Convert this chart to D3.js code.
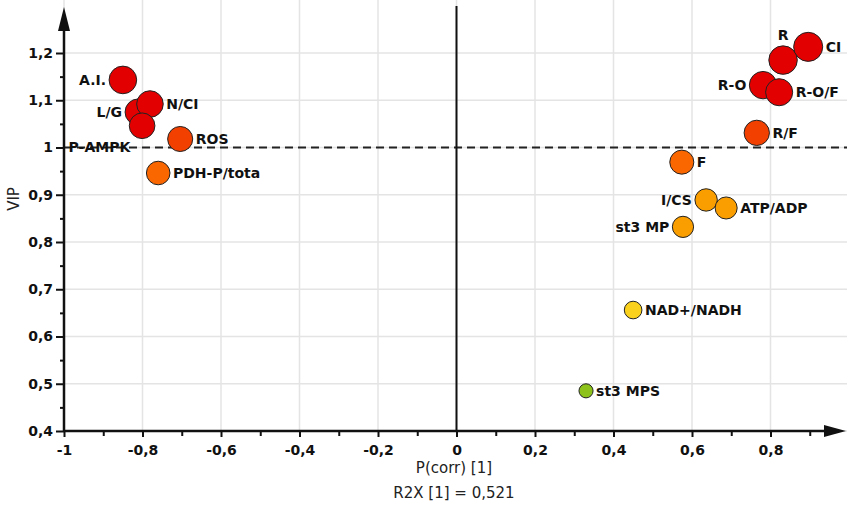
<!DOCTYPE html>
<html>
<head>
<meta charset="utf-8">
<script src="https://cdn.jsdelivr.net/npm/d3@7"></script>
<style>
  body { margin: 0; background: #fff; }
  svg { display: block; font-family: "DejaVu Sans", sans-serif; }
</style>
</head>
<body>
<script>
// data (P(corr) on x, VIP on y)
const names = ["A.I.", "L/G", "N/CI", "P-AMPK", "ROS", "PDH-P/tota",
  "R-O", "R-O/F", "R", "CI", "R/F", "F", "I/CS", "ATP/ADP", "st3 MP", "NAD+/NADH", "st3 MPS"];
const pcorr = [-0.850, -0.811, -0.781, -0.801, -0.704, -0.760,
  0.781, 0.822, 0.832, 0.896, 0.765, 0.574, 0.636, 0.687, 0.577, 0.450, 0.330];
const vip = [1.143, 1.075, 1.092, 1.046, 1.018, 0.946,
  1.132, 1.117, 1.185, 1.213, 1.031, 0.969, 0.889, 0.872, 0.832, 0.656, 0.485];

const xTicks = [-1, -0.8, -0.6, -0.4, -0.2, 0, 0.2, 0.4, 0.6, 0.8];
const xMinor = [-0.9, -0.7, -0.5, -0.3, -0.1, 0.1, 0.3, 0.5, 0.7, 0.9];
const yTicks = [0.4, 0.5, 0.6, 0.7, 0.8, 0.9, 1, 1.1, 1.2];
const yMinor = [0.45, 0.55, 0.65, 0.75, 0.85, 0.95, 1.05, 1.15];
const vipCut = 1;

const xTitle = "P(corr) [1]";
const xSubTitle = "R2X [1] = 0,521";
const yTitle = "VIP";

const width = 847, height = 506;

const svg = d3.select("body").append("svg")
  .attr("width", width)
  .attr("height", height);

// scales
const x = d3.scaleLinear().domain([-1, 1]).range([64, 849]);
const y = d3.scaleLinear().domain([0.4, 1.2]).range([431, 53]);
const r = d3.scaleLinear().domain([0.48, 1.21]).range([7, 14.5]);
const color = d3.scaleThreshold()
  .domain([0.55, 0.75, 0.92, 1.0, 1.04])
  .range(["#8dc21b", "#fad11c", "#fa9e00", "#fa6600", "#f24000", "#e30000"]);

// comma decimals, plain hyphen minus
const loc = d3.formatLocale({ decimal: ",", thousands: ".", grouping: [3], currency: ["", ""], minus: "-" });
const fmt = loc.format("~g");

// grid
svg.append("g").selectAll("line")
  .data(xTicks)
  .join("line")
  .attr("x1", d => x(d)).attr("x2", d => x(d))
  .attr("y1", 0).attr("y2", y(0.4))
  .attr("stroke", "#e4e4e4").attr("stroke-width", 1.5);

svg.append("g").selectAll("line")
  .data(yTicks)
  .join("line")
  .attr("x1", x(-1)).attr("x2", width)
  .attr("y1", d => y(d)).attr("y2", d => y(d))
  .attr("stroke", "#e4e4e4").attr("stroke-width", 1.5);

// VIP = 1 dashed line
svg.append("line")
  .attr("x1", x(-1)).attr("x2", width)
  .attr("y1", y(vipCut)).attr("y2", y(vipCut))
  .attr("stroke", "#222").attr("stroke-width", 2)
  .attr("stroke-dasharray", "8,5");

// zero line
svg.append("line")
  .attr("x1", x(0)).attr("x2", x(0))
  .attr("y1", 6).attr("y2", y(0.4))
  .attr("stroke", "#111").attr("stroke-width", 2);

// x axis
const xAxis = svg.append("g")
  .attr("transform", `translate(0,${y(0.4)})`)
  .call(d3.axisBottom(x).tickValues(xTicks).tickFormat(fmt).tickSize(6).tickPadding(8));
xAxis.append("g")
  .call(d3.axisBottom(x).tickValues(xMinor).tickFormat("").tickSize(5));

// y axis
const yAxis = svg.append("g")
  .attr("transform", `translate(${x(-1)},0)`)
  .call(d3.axisLeft(y).tickValues(yTicks).tickFormat(fmt).tickSize(8).tickPadding(3));
yAxis.append("g")
  .call(d3.axisLeft(y).tickValues(yMinor).tickFormat("").tickSize(4));

svg.selectAll(".domain").remove();
svg.selectAll(".tick line").attr("stroke", "#111").attr("stroke-width", 2);
svg.selectAll(".tick text")
  .attr("fill", "#111")
  .style("font-size", "14px")
  .style("font-weight", "bold")
  .style("font-family", "DejaVu Sans, sans-serif");

// axis lines with arrow heads
svg.append("line")
  .attr("x1", x(-1)).attr("x2", 830)
  .attr("y1", y(0.4)).attr("y2", y(0.4))
  .attr("stroke", "#111").attr("stroke-width", 2.5);
svg.append("path")
  .attr("d", `M846,${y(0.4)} L824,${y(0.4) - 6} L824,${y(0.4) + 6} Z`)
  .attr("fill", "#111");

svg.append("line")
  .attr("x1", x(-1)).attr("x2", x(-1))
  .attr("y1", y(0.4)).attr("y2", 24)
  .attr("stroke", "#111").attr("stroke-width", 2.5);
svg.append("path")
  .attr("d", `M${x(-1)},7 L${x(-1) - 6},31 L${x(-1) + 6},31 Z`)
  .attr("fill", "#111");

// axis titles
svg.append("text")
  .attr("x", 454).attr("y", 473)
  .attr("text-anchor", "middle")
  .style("font-size", "15px")
  .attr("fill", "#222")
  .text(xTitle);
svg.append("text")
  .attr("x", 454).attr("y", 498)
  .attr("text-anchor", "middle")
  .style("font-size", "15px")
  .attr("fill", "#222")
  .text(xSubTitle);
svg.append("text")
  .attr("transform", "translate(18.5,199) rotate(-90)")
  .attr("text-anchor", "middle")
  .style("font-size", "15px")
  .attr("fill", "#222")
  .text(yTitle);

// points
const pts = names.map((n, i) => ({ name: n, p: pcorr[i], v: vip[i] }));

svg.append("g").selectAll("circle")
  .data(pts)
  .join("circle")
  .attr("cx", d => x(d.p))
  .attr("cy", d => y(d.v))
  .attr("r", d => r(d.v))
  .attr("fill", d => color(d.v))
  .attr("stroke", "#222")
  .attr("stroke-width", 1);

// labels: default to the right of the dot
const place = { "A.I.": "left", "L/G": "left", "P-AMPK": "lowleft", "R": "top",
  "R-O": "left", "I/CS": "left", "st3 MP": "left" };

svg.append("g").selectAll("text")
  .data(pts)
  .join("text")
  .each(function(d) {
    const cx = x(d.p), cy = y(d.v), rr = r(d.v);
    const side = place[d.name] || "right";
    const t = d3.select(this);
    if (side === "right") {
      t.attr("x", cx + rr + 3).attr("y", cy).attr("dy", "0.36em").attr("text-anchor", "start");
    } else if (side === "left") {
      t.attr("x", cx - rr - 3).attr("y", cy).attr("dy", "0.36em").attr("text-anchor", "end");
    } else if (side === "top") {
      t.attr("x", cx).attr("y", cy - rr - 6).attr("text-anchor", "middle");
    } else {
      t.attr("x", cx - rr + 1).attr("y", cy + 21).attr("dy", "0.36em").attr("text-anchor", "end");
    }
  })
  .style("font-size", "14px")
  .style("font-weight", "bold")
  .attr("fill", "#111")
  .text(d => d.name);
</script>
</body>
</html>
